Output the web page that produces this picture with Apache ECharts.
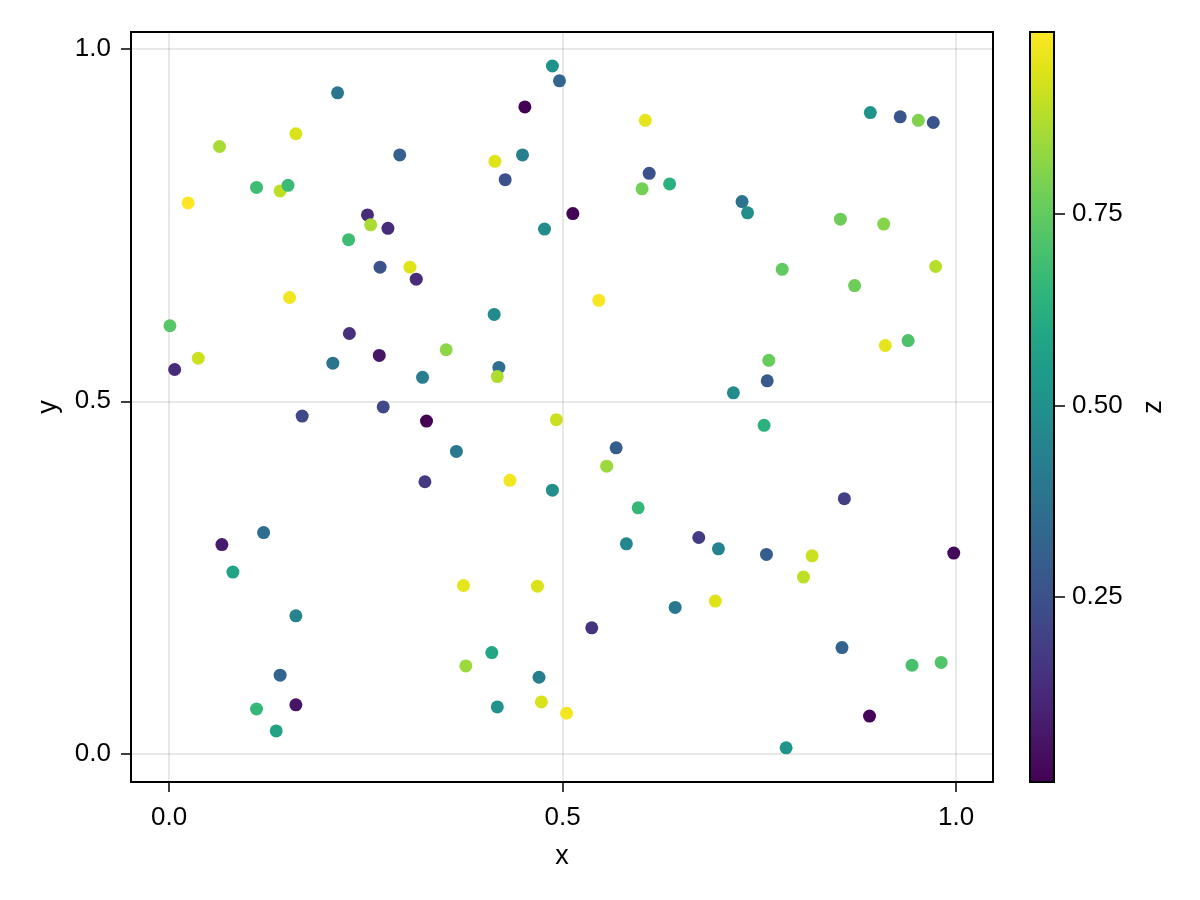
<!DOCTYPE html>
<html><head><meta charset="utf-8">
<script src="https://cdn.jsdelivr.net/npm/echarts@6/dist/echarts.min.js"></script>
<style>html,body{margin:0;padding:0;background:#fff}#c{width:1200px;height:900px}</style>
</head><body><div id="c"></div>
<script>
const xs = [0.214,0.161,0.064,0.293,0.024,0.111,0.141,0.151,0.252,0.256,0.278,0.228,0.268,0.306,0.314,0.153,0.001,0.037,0.007,0.229,0.267,0.208,0.322,0.272,0.169,
0.487,0.496,0.452,0.605,0.414,0.449,0.427,0.610,0.636,0.601,0.513,0.477,0.546,0.413,0.352,0.419,0.417,
0.891,0.929,0.952,0.971,0.728,0.735,0.853,0.908,0.779,0.974,0.871,0.910,0.939,0.762,0.760,0.717,
0.327,0.325,0.120,0.067,0.081,0.161,0.141,0.111,0.161,0.136,
0.492,0.365,0.433,0.487,0.568,0.556,0.596,0.581,0.673,0.698,0.374,0.468,0.643,0.694,0.537,0.410,0.377,0.470,0.417,0.473,0.505,
0.756,0.858,0.759,0.817,0.806,0.997,0.855,0.944,0.981,0.890,0.784];
const ys = [0.937,0.879,0.861,0.849,0.781,0.803,0.798,0.806,0.764,0.750,0.745,0.729,0.690,0.690,0.673,0.647,0.607,0.561,0.545,0.596,0.565,0.554,0.534,0.492,0.479,
0.975,0.954,0.917,0.898,0.840,0.849,0.814,0.823,0.808,0.801,0.766,0.744,0.643,0.623,0.573,0.548,0.535,
0.909,0.903,0.898,0.895,0.783,0.767,0.758,0.751,0.687,0.691,0.664,0.579,0.586,0.558,0.529,0.512,
0.472,0.386,0.314,0.297,0.258,0.196,0.112,0.064,0.070,0.033,
0.474,0.429,0.388,0.374,0.434,0.408,0.349,0.298,0.307,0.291,0.239,0.238,0.208,0.217,0.179,0.144,0.125,0.109,0.067,0.074,0.058,
0.466,0.362,0.283,0.281,0.251,0.285,0.151,0.126,0.130,0.054,0.009];
const zs = [0.39,0.93,0.86,0.31,0.9875,0.68,0.89,0.67,0.13,0.86,0.13,0.68,0.26,0.94,0.13,0.97,0.73,0.91,0.13,0.14,0.06,0.38,0.42,0.22,0.22,
0.50,0.33,0.0086,0.95,0.94,0.43,0.25,0.25,0.63,0.78,0.015,0.48,0.98,0.48,0.82,0.36,0.87,
0.51,0.27,0.80,0.26,0.38,0.49,0.77,0.81,0.75,0.88,0.77,0.95,0.71,0.76,0.29,0.48,
0.012,0.17,0.36,0.08,0.58,0.45,0.32,0.66,0.06,0.58,
0.91,0.40,0.97,0.49,0.30,0.84,0.66,0.46,0.18,0.44,0.95,0.93,0.40,0.94,0.15,0.59,0.84,0.43,0.51,0.93,0.97,
0.63,0.19,0.30,0.91,0.89,0.03,0.32,0.70,0.72,0.02,0.52];
const xTicks = [0, 0.5, 1.0];
const yTicks = [0, 0.5, 1.0];
const zTicks = [0.25, 0.5, 0.75];
const xRange = [-0.0485, 1.0469];
const yRange = [-0.0394, 1.0232];
const zRange = [0.0086, 0.9875];
const viridis = ['#440154','#471365','#482475','#463480','#414487','#3b528b','#355f8d','#2f6c8e','#2a788e','#25848e','#21918c','#1e9c89','#22a884','#2fb47c','#44bf70','#5ec962','#7ad151','#9bd93c','#bddf26','#dfe318','#fde725'];

const FONT = 'Liberation Sans';
const tickStyle = {color:'#000', width:1.5};
const labelStyle = {fontFamily:FONT, fontSize:26, color:'#000'};
const gridLine = {show:true, lineStyle:{color:'rgba(0,0,0,0.12)', width:1.5}};

const chart = echarts.init(document.getElementById('c'), null, {renderer:'canvas'});
chart.setOption({
  animation:false,
  backgroundColor:'#fff',
  grid:[
    {left:131, top:32, width:862, height:750, show:true, borderColor:'#000', borderWidth:2, backgroundColor:'transparent', z:10},
    {left:1030, top:32, width:24, height:750, show:true, borderColor:'#000', borderWidth:2, backgroundColor:'transparent', z:10}
  ],
  xAxis:[
    {type:'value', gridIndex:0, min:xRange[0], max:xRange[1],
     axisLine:{show:false, onZero:false},
     axisTick:{show:true, length:10, lineStyle:tickStyle, customValues:xTicks},
     axisLabel:Object.assign({customValues:xTicks, margin:23, formatter:v=>v.toFixed(1)}, labelStyle),
     splitLine:gridLine,
     name:'x', nameLocation:'middle', nameGap:61,
     nameTextStyle:{fontFamily:FONT, fontSize:27, color:'#000'}},
    {type:'category', gridIndex:1, data:['c'], show:false}
  ],
  yAxis:[
    {type:'value', gridIndex:0, min:yRange[0], max:yRange[1],
     axisLine:{show:false, onZero:false},
     axisTick:{show:true, length:10, lineStyle:tickStyle, customValues:yTicks},
     axisLabel:Object.assign({customValues:yTicks, margin:20, formatter:v=>v.toFixed(1)}, labelStyle),
     splitLine:gridLine,
     name:'y', nameLocation:'middle', nameGap:69, nameRotate:90,
     nameTextStyle:{fontFamily:FONT, fontSize:27, color:'#000'}},
    {type:'value', gridIndex:1, position:'right', min:zRange[0], max:zRange[1],
     axisLine:{show:false, onZero:false},
     axisTick:{show:true, length:11, lineStyle:tickStyle, customValues:zTicks},
     axisLabel:Object.assign({customValues:zTicks, margin:18, formatter:v=>v.toFixed(2)}, labelStyle),
     splitLine:{show:false},
     name:'z', nameLocation:'middle', nameGap:86, nameRotate:90,
     nameTextStyle:{fontFamily:FONT, fontSize:27, color:'#000'}}
  ],
  visualMap:{type:'continuous', show:false, min:zRange[0], max:zRange[1], dimension:2, seriesIndex:0, inRange:{color:viridis}},
  series:[
    {type:'scatter', xAxisIndex:0, yAxisIndex:0, symbolSize:13,
     data:xs.map((x,i)=>[x, ys[i], zs[i]]), itemStyle:{opacity:1}, silent:true},
    {type:'bar', xAxisIndex:1, yAxisIndex:1, data:[zRange[1]], barWidth:'100%', silent:true, clip:true,
     itemStyle:{color:{type:'linear', x:0, y:1, x2:0, y2:0,
       colorStops:viridis.map((c,i)=>({offset:i/(viridis.length-1), color:c}))}}}
  ]
});
</script></body></html>
